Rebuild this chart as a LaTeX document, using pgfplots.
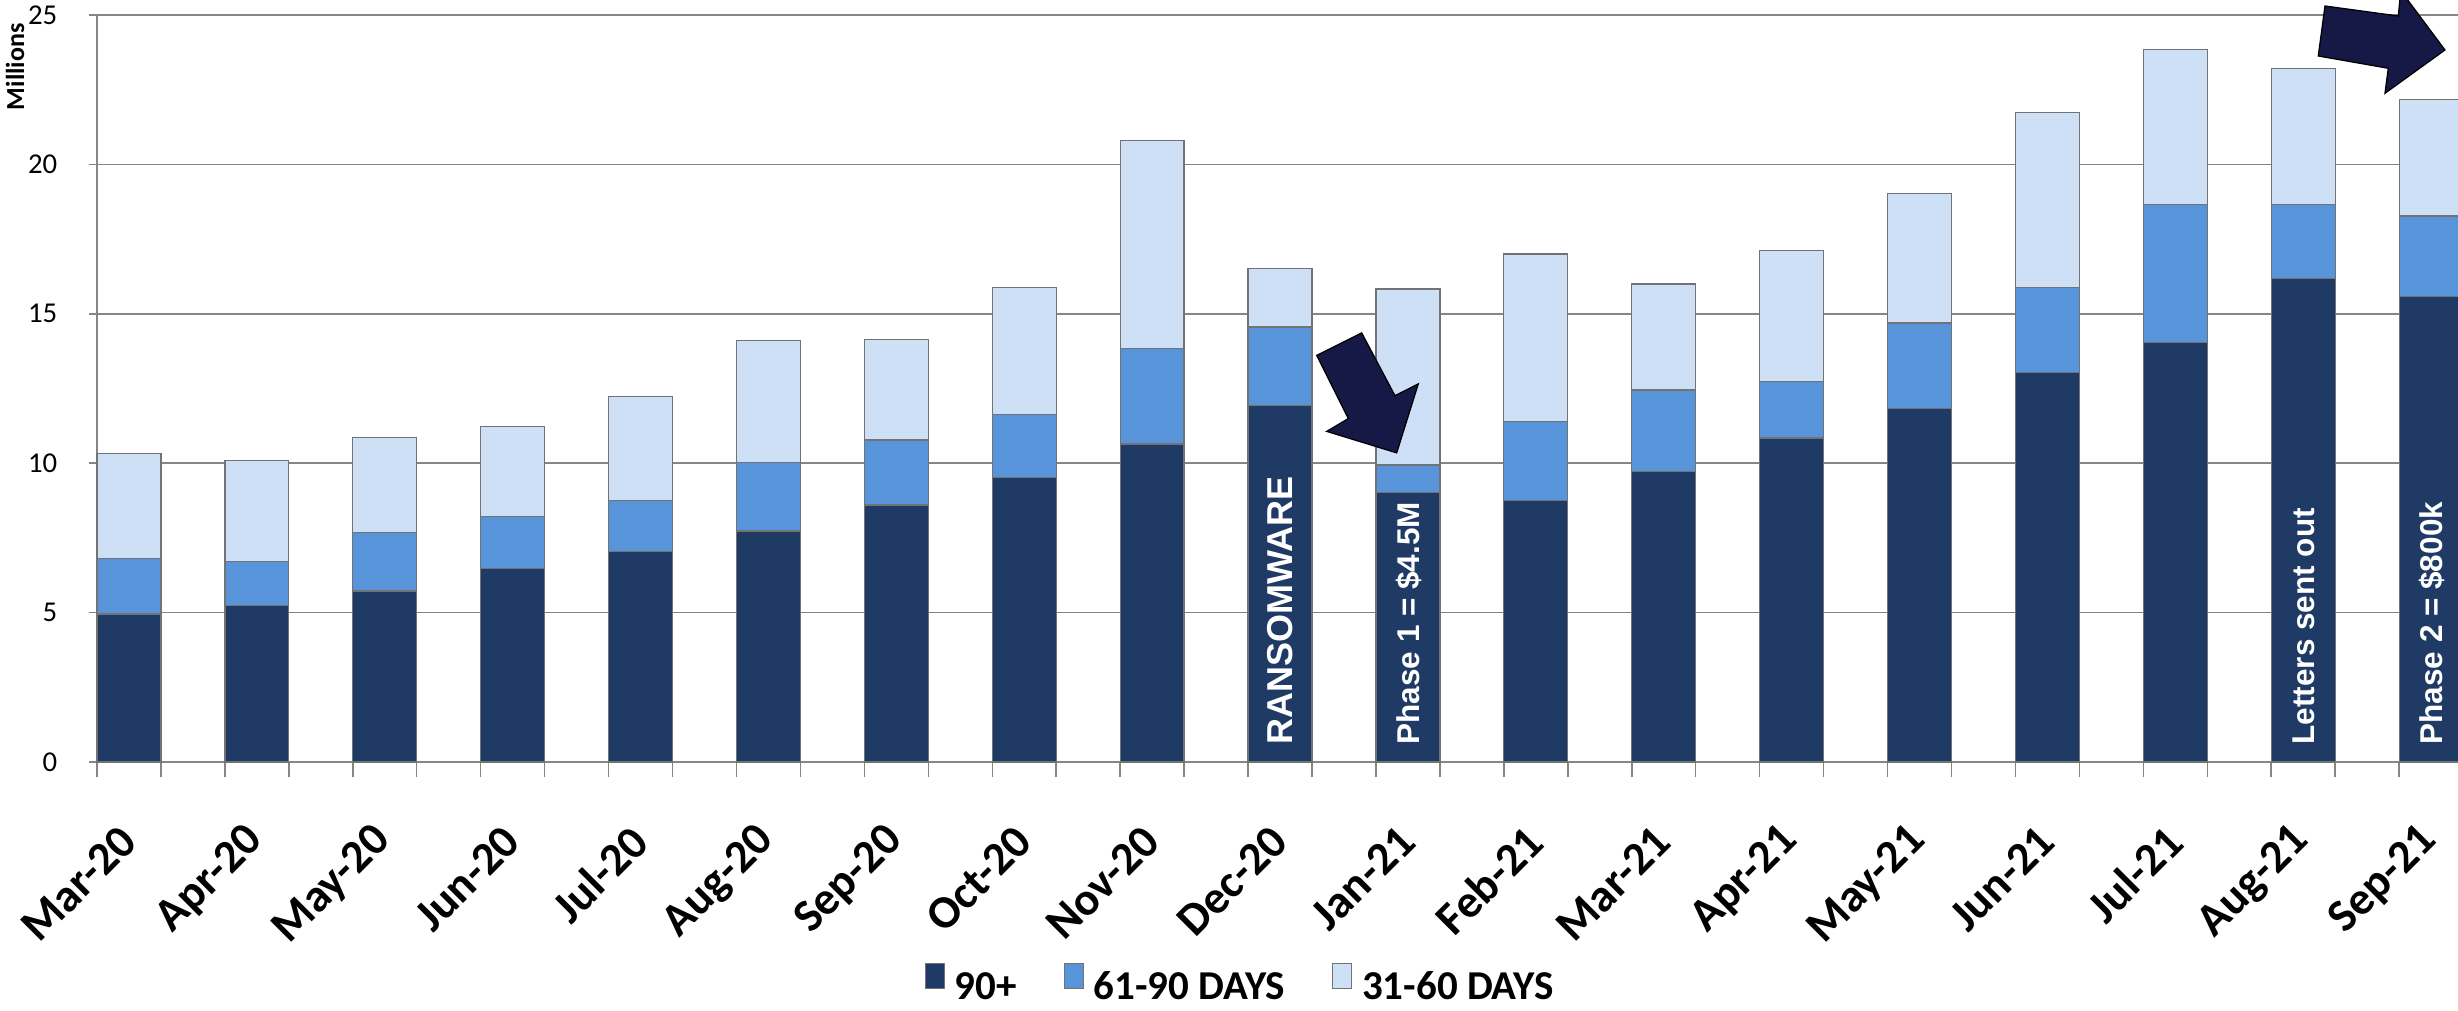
\documentclass[border=0pt]{standalone}
\usepackage{fontspec}
\setmainfont{Carlito}
\newfontfamily\annot{Liberation Sans}
\usepackage{pgfplots}
\usepackage{pgfplotstable}
\pgfplotsset{compat=1.18}

\definecolor{c90}{RGB}{31,59,101}
\definecolor{c61}{RGB}{88,148,218}
\definecolor{c31}{RGB}{206,224,246}
\definecolor{arrowc}{RGB}{22,24,70}
\definecolor{gridc}{RGB}{134,134,134}
\definecolor{barline}{RGB}{115,115,115}

\pgfplotstableread{
x d90 d61 d31
0 4.95 1.85 3.53
1 5.25 1.47 3.37
2 5.72 1.97 3.18
3 6.47 1.75 3.02
4 7.04 1.70 3.50
5 7.73 2.30 4.07
6 8.60 2.18 3.35
7 9.52 2.12 4.25
8 10.64 3.21 6.94
9 11.92 2.64 1.96
10 9.03 0.91 5.89
11 8.76 2.64 5.60
12 9.72 2.73 3.55
13 10.84 1.89 4.39
14 11.84 2.85 4.33
15 13.03 2.84 5.87
16 14.05 4.62 5.18
17 16.17 2.50 4.55
18 15.58 2.69 3.91
}\datatable

\pgfplotsset{
  mylegend/.style={legend image code/.code={%
    \draw[##1, draw=barline, line width=0.4pt] (0pt,-0.2pt) rectangle (7.6pt,9.8pt);}},
}

\begin{document}
\begin{tikzpicture}
\path[use as bounding box] (0,0) rectangle (983.2pt,404.4pt);
\clip (0,0) rectangle (983.2pt,404.4pt);
\begin{axis}[
  at={(38.8pt,99.6pt)}, anchor=south west,
  scale only axis, width=972pt, height=298.8pt,
  xmin=-0.25, xmax=18.75, ymin=0, ymax=25,
  ybar stacked, bar width=0.5,
  axis lines*=left,
  axis line style={gridc, line width=0.6pt},
  ymajorgrids, grid style={gridc, line width=0.6pt},
  ytick={0,5,...,25},
  xtick={0,...,18},
  xticklabels={Mar-20,Apr-20,May-20,Jun-20,Jul-20,Aug-20,Sep-20,Oct-20,Nov-20,Dec-20,Jan-21,Feb-21,Mar-21,Apr-21,May-21,Jun-21,Jul-21,Aug-21,Sep-21},
  minor xtick={-0.25,0.25,...,18.75},
  tick align=outside,
  major tick length=3.2pt, minor tick length=6pt,
  tick style={gridc, line width=0.6pt},
  major x tick style={draw=none},
  xticklabel style={font=\bfseries\fontsize{18.5}{20}\selectfont, inner sep=0pt, anchor=east, xshift=-0.2pt, yshift=-25.5pt, rotate=45},
  yticklabel style={font=\fontsize{11.5}{13}\selectfont, inner sep=0pt, anchor=east, xshift=-12.5pt},
  /pgf/number format/assume math mode=true,
  clip=false,
  legend columns=3,
  legend style={at={(0.470,-0.296)}, anchor=center, draw=none, fill=none,
    font=\bfseries\fontsize{16.4}{18}\selectfont,
    nodes={inner sep=0pt},
    /tikz/every odd column/.append style={column sep=4pt},
    /tikz/every even column/.append style={column sep=18.8pt}},
]
\addplot[fill=c90, draw=barline, line width=0.5pt, mylegend] table[x=x, y=d90] {\datatable};
\addlegendentry{90+}
\addplot[fill=c61, draw=barline, line width=0.5pt, mylegend] table[x=x, y=d61] {\datatable};
\addlegendentry{61-90 DAYS}
\addplot[fill=c31, draw=barline, line width=0.5pt, mylegend] table[x=x, y=d31] {\datatable};
\addlegendentry{31-60 DAYS}

\coordinate (tDec) at (axis cs:9,0.57);
\coordinate (tJan) at (axis cs:10,0.57);
\coordinate (tAug) at (axis cs:17,0.57);
\coordinate (tSep) at (axis cs:18,0.57);
\end{axis}

\begin{scope}[every node/.style={rotate=90, anchor=west, inner sep=0pt, text depth=0pt, text=white}]
\node[font=\annot\bfseries\fontsize{14.4}{16}\selectfont] at (tDec) {RANSOMWARE};
\node[font=\annot\bfseries\fontsize{12.6}{14}\selectfont] at (tJan) {Phase 1 = \$4.5M};
\node[font=\annot\bfseries\fontsize{12.6}{14}\selectfont] at (tAug) {Letters sent out};
\node[font=\annot\bfseries\fontsize{12.6}{14}\selectfont] at (tSep) {Phase 2 = \$800k};
\end{scope}

\node[rotate=90, anchor=east, inner sep=0pt, text depth=0pt, font=\bfseries\fontsize{10.4}{12}\selectfont] at (6pt,395.2pt) {Millions};

\begin{scope}[shift={(0pt,404.4pt)}, x=0.4pt, y=-0.4pt]
\filldraw[fill=arrowc, draw=black, line width=0.5pt]
  (1316.7,355.4) -- (1361.7,332.9) -- (1395,395.7) -- (1418.3,383.9) -- (1396.7,452.9) -- (1326.7,431.4) -- (1348.3,418.6) -- cycle;
\filldraw[fill=arrowc, draw=black, line width=0.5pt]
  (2325,6) -- (2398.3,16) -- (2400.8,-9.3) -- (2445,50) -- (2385,93.3) -- (2388.3,68.3) -- (2318.3,56) -- cycle;
\end{scope}
\end{tikzpicture}
\end{document}
